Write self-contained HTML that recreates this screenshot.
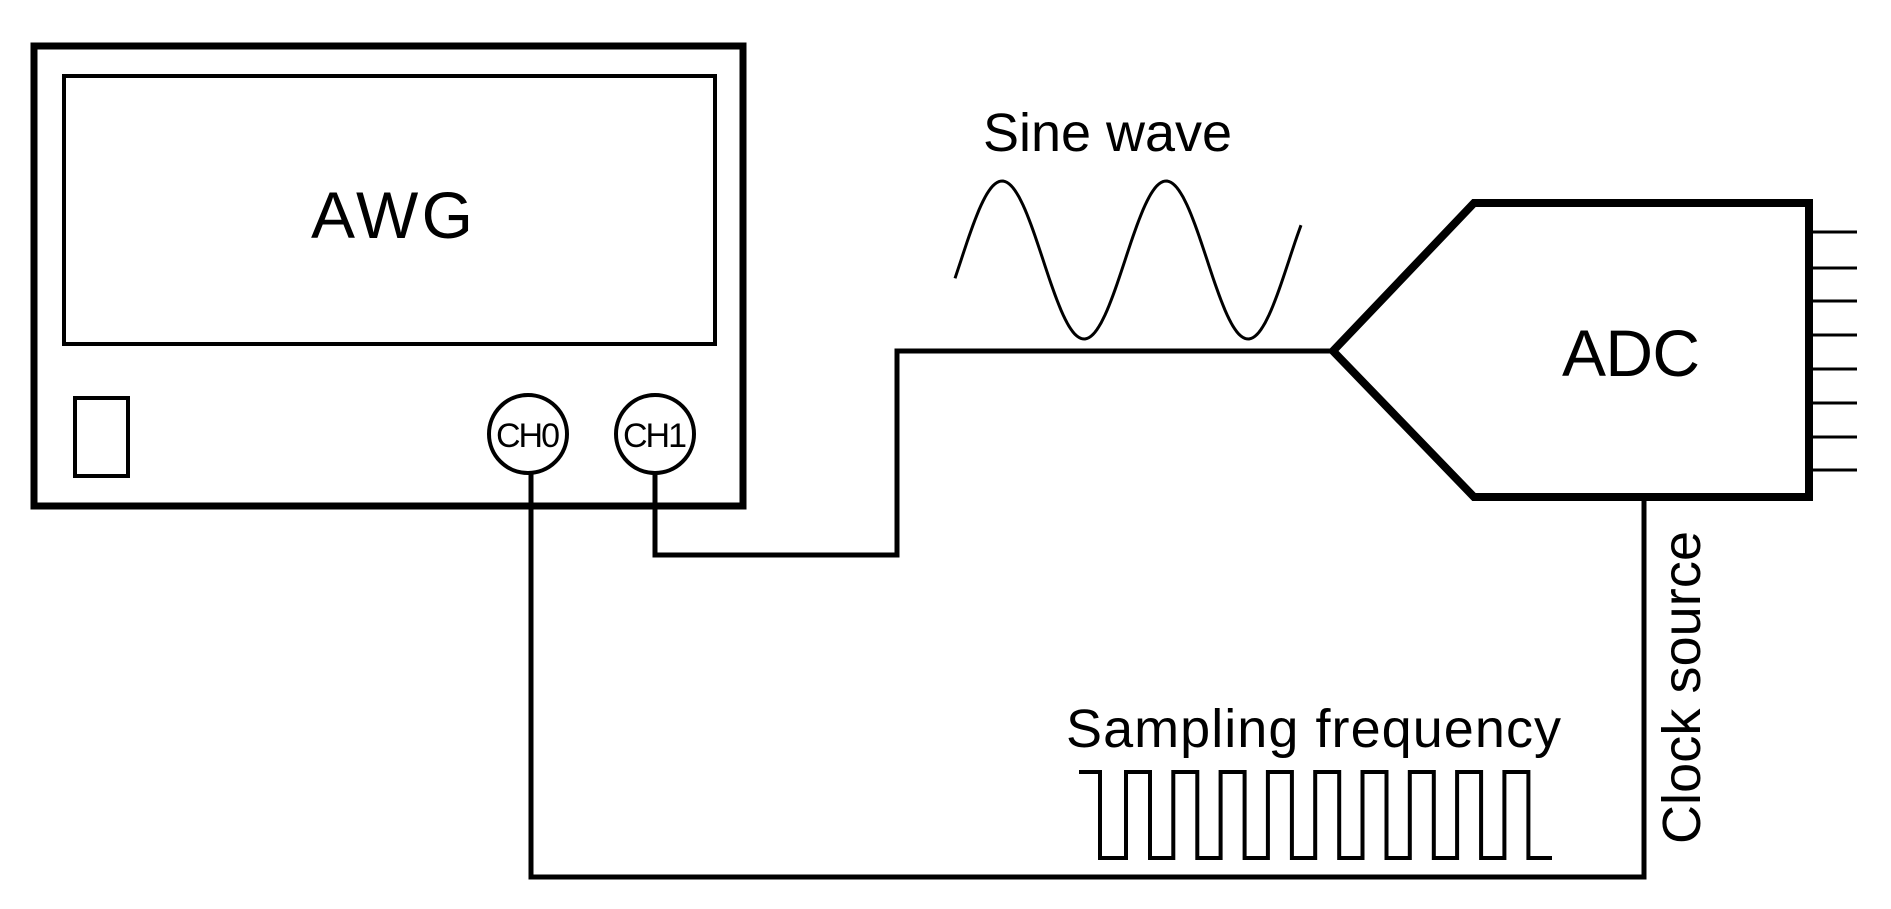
<!DOCTYPE html>
<html><head><style>html,body{margin:0;padding:0;background:#fff}svg{display:block}</style></head>
<body>
<svg width="1891" height="909" viewBox="0 0 1891 909" xmlns="http://www.w3.org/2000/svg" font-family="Liberation Sans, sans-serif">
<rect x="34" y="46" width="709" height="460" fill="none" stroke="#000" stroke-width="7"/>
<rect x="64" y="76" width="651" height="268" fill="none" stroke="#000" stroke-width="4"/>
<text x="392" y="238" font-size="66" text-anchor="middle" textLength="162">AWG</text>
<rect x="75" y="398" width="53" height="78" fill="none" stroke="#000" stroke-width="4"/>
<circle cx="528" cy="434" r="39" fill="none" stroke="#000" stroke-width="4"/>
<circle cx="655" cy="434" r="39" fill="none" stroke="#000" stroke-width="4"/>
<text x="528" y="447" font-size="34" text-anchor="middle" textLength="64">CH0</text>
<text x="655" y="447" font-size="34" text-anchor="middle" textLength="64">CH1</text>
<polyline points="531,473 531,877 1644,877 1644,497" fill="none" stroke="#000" stroke-width="5"/>
<polyline points="655,473 655,555 897,555 897,351 1333,351" fill="none" stroke="#000" stroke-width="5"/>
<polygon points="1333,351 1474,203 1809,203 1809,497 1474,497" fill="none" stroke="#000" stroke-width="8"/>
<g stroke="#000" stroke-width="3">
<line x1="1809" y1="232" x2="1857" y2="232"/><line x1="1809" y1="268" x2="1857" y2="268"/>
<line x1="1809" y1="301" x2="1857" y2="301"/><line x1="1809" y1="335" x2="1857" y2="335"/>
<line x1="1809" y1="369" x2="1857" y2="369"/><line x1="1809" y1="403" x2="1857" y2="403"/>
<line x1="1809" y1="437" x2="1857" y2="437"/><line x1="1809" y1="470" x2="1857" y2="470"/>
</g>
<text x="1631" y="376" font-size="66" text-anchor="middle" textLength="138">ADC</text>
<text x="983" y="151" font-size="54" textLength="249">Sine wave</text>
<path id="sine" fill="none" stroke="#000" stroke-width="3"/>
<text x="1066" y="747" font-size="54" textLength="495">Sampling frequency</text>
<path id="sq" fill="none" stroke="#000" stroke-width="4"/>
<text transform="translate(1700,844) rotate(-90)" font-size="54" textLength="313">Clock source</text>
<script>
var d="";for(var x=955;x<=1302;x+=2){var y=260-79*Math.sin((x-965)/164*2*Math.PI+0.15);d+=(x==955?"M":"L")+x+","+y.toFixed(1);}
document.getElementById("sine").setAttribute("d",d);
var s="M1079,772 L1100,772 L1100,858";
for(var i=0;i<9;i++){var xs=1126+47.3*i;var xe=xs+24;s+=" L"+xs+",858 L"+xs+",772 L"+xe+",772 L"+xe+",858";}
s+=" L1552,858";document.getElementById("sq").setAttribute("d",s);
</script>
</svg>
</body></html>
